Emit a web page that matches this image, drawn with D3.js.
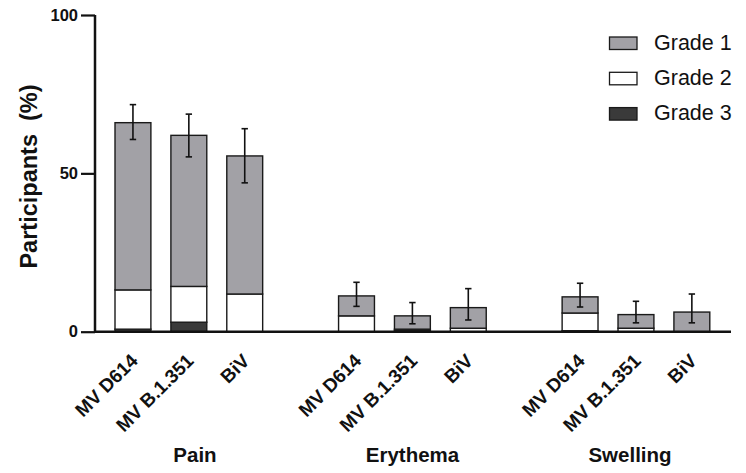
<!DOCTYPE html>
<html>
<head>
<meta charset="utf-8">
<script src="https://cdn.jsdelivr.net/npm/d3@7"></script>
<style>
  html, body { margin: 0; padding: 0; background: #fff; }
  svg { display: block; font-family: "Liberation Sans", Arial, sans-serif; }
</style>
</head>
<body>
<svg id="chart" width="746" height="473"></svg>
<script>
// ---- data ----
const groups = ["Pain", "Erythema", "Swelling"];
const vaccines = ["MV D614", "MV B.1.351", "BiV"];
const grades = ["Grade 1", "Grade 2", "Grade 3"];
// segment values (% participants) per group, per vaccine
const grade3 = [[0.8, 3.0, 0.0], [0.0, 0.4, 0.0], [0.3, 0.0, 0.0]];
const grade2 = [[12.4, 11.3, 11.9], [5.0, 0.4, 1.1], [5.6, 1.1, 0.0]];
const grade1 = [[52.8, 47.7, 43.6], [6.3, 4.2, 6.5], [5.1, 4.3, 6.2]];
const errLow  = [[60.7, 55.2, 47.0], [8.0, 2.5, 3.7], [7.8, 2.8, 2.8]];
const errHigh = [[71.7, 68.7, 64.1], [15.6, 9.2, 13.6], [15.3, 9.6, 11.9]];
const yTicks = [0, 50, 100];
const yTitle = "Participants  (%)";

const svg = d3.select("#chart");
const axisX = 95, baseY = 331.7, topY = 15;

const y = d3.scaleLinear().domain([0, 100]).range([baseY, topY]);
const x0 = d3.scaleBand().domain(groups).range([105, 719.8]).paddingInner(0.25).paddingOuter(0);
const x1 = d3.scaleBand().domain(vaccines).range([0, x0.bandwidth()]).paddingInner(0.358).paddingOuter(0.179);
const xTitle = d3.scalePoint().domain(groups).range([195, 630]);
const color = d3.scaleOrdinal().domain(grades).range(["#a2a1a6", "#ffffff", "#3a3a3a"]);

// build stacked rows
const rows = [];
groups.forEach((g, gi) => {
  vaccines.forEach((v, vi) => {
    rows.push({ g, v, "Grade 3": grade3[gi][vi], "Grade 2": grade2[gi][vi], "Grade 1": grade1[gi][vi],
      lo: errLow[gi][vi], hi: errHigh[gi][vi] });
  });
});
const stack = d3.stack().keys(["Grade 3", "Grade 2", "Grade 1"]);
const series = stack(rows);

const barG = svg.append("g");
series.forEach(s => {
  barG.selectAll(null).data(s.filter(d => d[1] - d[0] > 0)).enter().append("rect")
    .attr("x", d => x0(d.data.g) + x1(d.data.v))
    .attr("width", x1.bandwidth())
    .attr("y", d => y(d[1]))
    .attr("height", d => y(d[0]) - y(d[1]))
    .attr("fill", color(s.key))
    .attr("stroke", "#1a1a1a")
    .attr("stroke-width", 1.4);
});

// error bars
const eb = svg.append("g").attr("stroke", "#111").attr("stroke-width", 1.6);
rows.forEach(r => {
  const cx = x0(r.g) + x1(r.v) + x1.bandwidth() / 2;
  eb.append("line").attr("x1", cx).attr("x2", cx).attr("y1", y(r.lo)).attr("y2", y(r.hi));
  eb.append("line").attr("x1", cx - 3.2).attr("x2", cx + 3.2).attr("y1", y(r.lo)).attr("y2", y(r.lo));
  eb.append("line").attr("x1", cx - 3.2).attr("x2", cx + 3.2).attr("y1", y(r.hi)).attr("y2", y(r.hi));
});

// y axis
const yAxis = d3.axisLeft(y).tickValues(yTicks).tickSize(14).tickPadding(3);
const ya = svg.append("g").attr("transform", `translate(${axisX},0)`).call(yAxis);
ya.select(".domain").attr("stroke", "#111").attr("stroke-width", 2.5)
  .attr("d", `M0,${y(100)}V${baseY}`);
ya.selectAll(".tick line").attr("stroke", "#111").attr("stroke-width", 2.2);
ya.selectAll(".tick text").attr("font-size", 16.5).attr("font-weight", "bold").attr("fill", "#111")
  .attr("font-family", "Liberation Sans, Arial, sans-serif");

// x axis line
svg.append("line").attr("x1", axisX - 1).attr("x2", 731).attr("y1", baseY).attr("y2", baseY)
  .attr("stroke", "#111").attr("stroke-width", 2.5);

// vaccine labels
const lab = svg.append("g");
rows.forEach(r => {
  const cx = x0(r.g) + x1(r.v) + x1.bandwidth() / 2;
  lab.append("text")
    .attr("transform", `translate(${cx + 6},${362}) rotate(-45)`)
    .attr("text-anchor", "end")
    .attr("font-size", 19).attr("font-weight", "bold").attr("fill", "#111")
    .text(r.v);
});

// group labels
svg.append("g").selectAll("text").data(groups).enter().append("text")
  .attr("x", g => xTitle(g))
  .attr("y", 462)
  .attr("text-anchor", "middle")
  .attr("font-size", 20.5).attr("font-weight", "bold").attr("fill", "#111")
  .text(g => g);

// y title
svg.append("text")
  .attr("transform", `translate(37,${176.5}) rotate(-90)`)
  .attr("text-anchor", "middle")
  .attr("font-size", 23.5).attr("font-weight", "bold").attr("fill", "#111")
  .attr("xml:space", "preserve").style("white-space", "pre")
  .text(yTitle);

// legend
const leg = svg.append("g");
grades.forEach((g, i) => {
  const yy = 37 + i * 35.3;
  leg.append("rect").attr("x", 609.5).attr("y", yy).attr("width", 27.5).attr("height", 12.5)
    .attr("fill", color(g)).attr("stroke", "#1a1a1a").attr("stroke-width", 1.3);
  leg.append("text").attr("x", 654).attr("y", yy + 12.8).attr("font-size", 21.5).attr("fill", "#111").text(g);
});
</script>
</body>
</html>
